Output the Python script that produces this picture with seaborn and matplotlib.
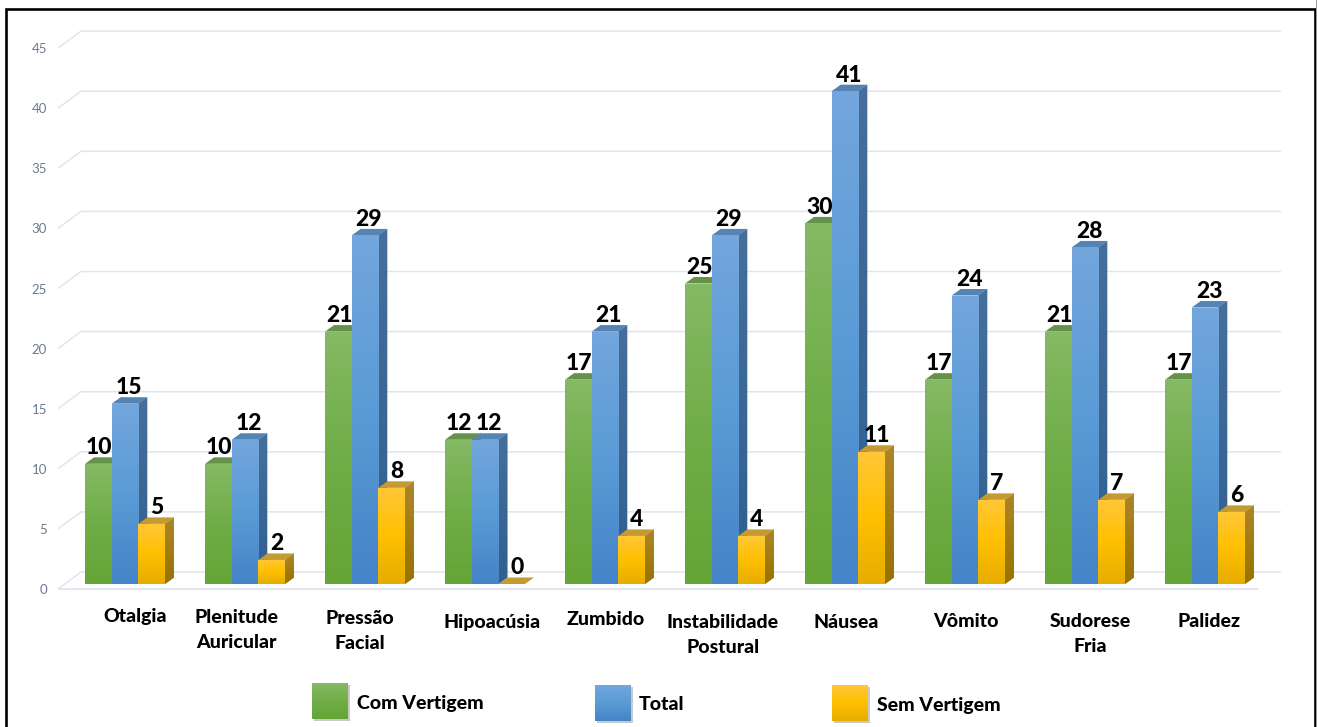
# plot.py - sintomas com e sem vertigem, barras com aparencia 3D
import numpy as np
import pandas as pd
import matplotlib
matplotlib.use("Agg")
import matplotlib.pyplot as plt
from matplotlib.colors import LinearSegmentedColormap
from matplotlib.patches import Polygon, Rectangle
from matplotlib.transforms import Affine2D
import seaborn as sns

categories = ["Otalgia", "Plenitude\nAuricular", "Pressão\nFacial", "Hipoacúsia", "Zumbido",
              "Instabilidade\nPostural", "Náusea", "Vômito", "Sudorese\nFria", "Palidez"]
series_names = ["Com Vertigem", "Total", "Sem Vertigem"]
com_vertigem = [10, 10, 21, 12, 17, 25, 30, 17, 21, 17]
total = [15, 12, 29, 12, 21, 29, 41, 24, 28, 23]
sem_vertigem = [5, 2, 8, 0, 4, 4, 11, 7, 7, 6]
y_ticks = [0, 5, 10, 15, 20, 25, 30, 35, 40, 45]

FIG_W, FIG_H = 1317, 727
DPI = 100
# pixel layout of the plot area
AX_LEFT, AX_RIGHT, AX_TOP, AX_BOTTOM = 58, 1281, 20, 595
CAT_STEP = 120.0   # px between categories
FIRST_CAT = 125.0  # px of first category centre
BASE_Y = 584.0     # px of value 0
UNIT = 12.02       # px per unit

FACE = {
    "Com Vertigem": ["#85b964", "#70ad47", "#64a536"],
    "Total": ["#72a6dd", "#5b9bd5", "#4484c8"],
    "Sem Vertigem": ["#ffc738", "#ffc000", "#e6ad00"],
}
SIDE = {
    "Com Vertigem": ["#5a8a3c", "#4a7a2c"],
    "Total": ["#466f9b", "#2f5f90"],
    "Sem Vertigem": ["#ac8628", "#977400"],
}
TOP = {"Com Vertigem": "#64924a", "Total": "#5483b4", "Sem Vertigem": "#c49b33"}
LABEL_SHIFT = {"Com Vertigem": 1, "Total": 4, "Sem Vertigem": 5}

# shift of each category label against its tick, in px (x, down)
label_shift = [(10, 2), (-9, 3), (-5, 4), (7, 8), (1, 5), (-2, 8), (1, 8), (1, 7), (5, 7), (4, 7)]


def px(x, y):
    return x / FIG_W, 1 - y / FIG_H


def gradient(colors):
    return LinearSegmentedColormap.from_list("g", colors)


def fillGradient(ax, clip, extent, colors, z):
    # vertical gradient image cut to the shape of the face
    img = ax.imshow(np.linspace(0, 1, 64).reshape(-1, 1), cmap=gradient(colors), extent=extent,
                    aspect="auto", origin="upper", interpolation="bilinear", zorder=z)
    img.set_clip_path(clip)


sns.set_theme(style="white")
plt.rcParams["font.family"] = ["Lato", "DejaVu Sans"]

df = pd.DataFrame({
    "Sintoma": categories * 3,
    "Serie": [n for n in series_names for _ in categories],
    "Valor": com_vertigem + total + sem_vertigem,
})

fig = plt.figure(figsize=(FIG_W / DPI, FIG_H / DPI), dpi=DPI, facecolor="white")
x0, y1 = px(AX_LEFT, AX_TOP)
x1, y0 = px(AX_RIGHT, AX_BOTTOM)
ax = fig.add_axes([x0, y0, x1 - x0, y1 - y0])

palette = {n: FACE[n][1] for n in series_names}
sns.barplot(data=df, x="Sintoma", y="Valor", hue="Serie", hue_order=series_names, palette=palette,
            width=80 / CAT_STEP, saturation=1, legend=False, linewidth=0, ax=ax, zorder=5)

xlim = ((AX_LEFT - FIRST_CAT) / CAT_STEP, (AX_RIGHT - FIRST_CAT) / CAT_STEP)
ylim = ((BASE_Y - AX_BOTTOM) / UNIT, (BASE_Y - AX_TOP) / UNIT)

# depth of the fake 3D, px converted to data units
barDx, barDy = 9 / CAT_STEP, 6.5 / UNIT
wallDx, wallDy = 23 / CAT_STEP, 17 / UNIT
floorY = (BASE_Y - 589) / UNIT

# walls: diagonal on the left, line along the back
gridColor = "#e2e5ed"
for v in y_ticks:
    ax.plot([xlim[0], xlim[0] + wallDx, xlim[1]],
            [v + floorY, v + floorY + wallDy, v + floorY + wallDy],
            color=gridColor, lw=1.1, zorder=1, solid_joinstyle="miter")
ax.plot([xlim[0], (1258 - FIRST_CAT) / CAT_STEP], [floorY, floorY], color=gridColor, lw=1.3, zorder=1)

# faces of each bar, left to right so the next one covers the previous side
z = 6
for name, container in zip(series_names, ax.containers):
    for bar in container:
        bx, bw, v = bar.get_x(), bar.get_width(), bar.get_height()
        order = z + bx * 10
        side = Polygon([(bx + bw, 0), (bx + bw + barDx, barDy), (bx + bw + barDx, v + barDy), (bx + bw, v)],
                       closed=True, facecolor=SIDE[name][0], edgecolor="none", zorder=order)
        ax.add_patch(side)
        fillGradient(ax, side, (bx + bw, bx + bw + barDx, 0, v + barDy), SIDE[name], order + 0.01)
        ax.add_patch(Polygon([(bx, v), (bx + bw, v), (bx + bw + barDx, v + barDy), (bx + barDx, v + barDy)],
                             closed=True, facecolor=TOP[name], edgecolor="none", zorder=order + 0.02))
        bar.set_zorder(order + 0.03)
        if v > 0:
            fillGradient(ax, bar, (bx, bx + bw, 0, v), FACE[name], order + 0.04)
        ax.annotate(f"{v:.0f}", (bx + bw / 2, v + barDy), xytext=(LABEL_SHIFT[name], -1),
                    textcoords="offset pixels", ha="center", va="bottom", fontsize=16.5,
                    fontweight="black", color="black", zorder=100)

ax.set_xlim(xlim)
ax.set_ylim(ylim)
sns.despine(ax=ax, left=True, bottom=True, top=True, right=True)
ax.set_xlabel("")
ax.set_ylabel("")
ax.patch.set_alpha(0)

# ticks sit on the front edge of the wall
ax.set_yticks([v + floorY for v in y_ticks], labels=[str(v) for v in y_ticks])
ax.tick_params(axis="y", length=0, pad=8, labelsize=9.5, labelcolor="#6b7a90")
ax.set_xticks(range(len(categories)), labels=categories)
ax.tick_params(axis="x", length=0, pad=8, labelsize=14, labelcolor="black")
for lab, (dx, dy) in zip(ax.get_xticklabels(), label_shift):
    lab.set_fontweight("black")
    lab.set_linespacing(1.55)
    lab.set_transform(lab.get_transform() + Affine2D().translate(dx, -dy))

# legend squares with text, placed by hand like the original
legendItems = [("Com Vertigem", 312, 683, 357, 703), ("Total", 595, 685, 639, 704), ("Sem Vertigem", 832, 685, 877, 706)]
for name, sx, sy, tx, ty in legendItems:
    fig.add_artist(Rectangle(px(sx + 2, sy + 38), 36 / FIG_W, 36 / FIG_H, transform=fig.transFigure,
                             facecolor="#c9c9c9", edgecolor="none", zorder=-1))
    lx, ly = px(sx, sy + 36)
    lax = fig.add_axes([lx, ly, 36 / FIG_W, 36 / FIG_H])
    lax.imshow(np.linspace(0, 1, 64).reshape(-1, 1), cmap=gradient(FACE[name]), aspect="auto", interpolation="bilinear")
    lax.axis("off")
    fig.text(*px(tx, ty), name, fontsize=14, fontweight="black", color="black", ha="left", va="center")

# black frame of the pasted picture, open at the bottom of the canvas
fx, fy = px(6, 745)
fig.add_artist(Rectangle((fx, fy), 1309 / FIG_W, 736 / FIG_H, transform=fig.transFigure,
                         facecolor="none", edgecolor="black", lw=1.9))
# grey sliver right of the frame
fig.add_artist(Rectangle(px(1316, 727), 1 / FIG_W, 1, transform=fig.transFigure, facecolor="#9a9a9a", edgecolor="none"))

fig.savefig("out.png", dpi=DPI)
plt.close(fig)
